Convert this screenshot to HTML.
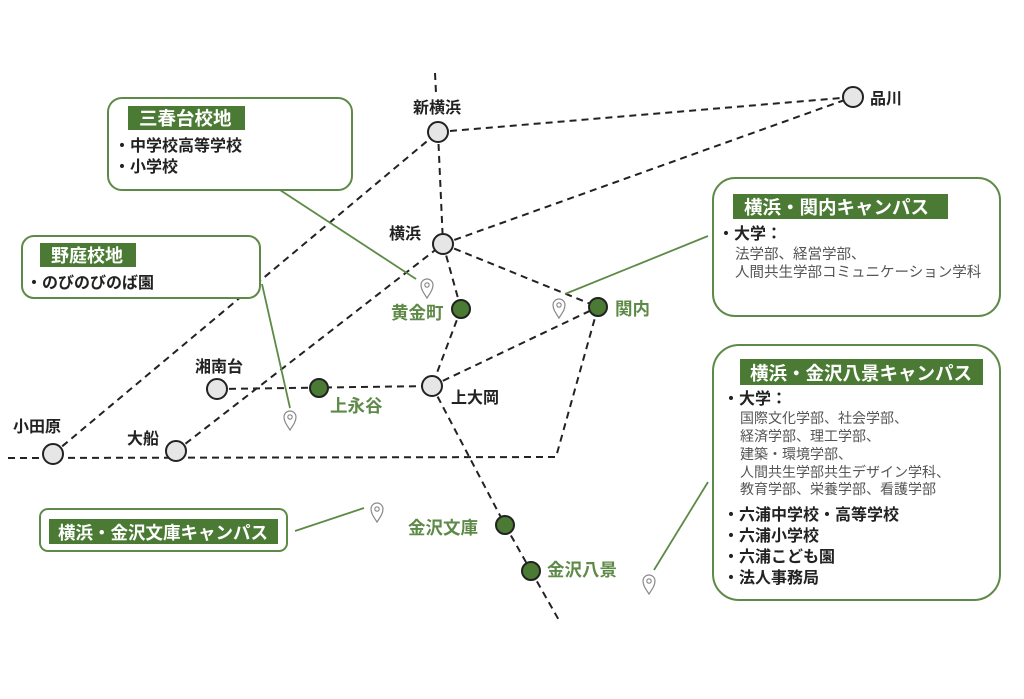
<!DOCTYPE html>
<html><head><meta charset="utf-8">
<style>
html,body{margin:0;padding:0;background:#fff;}
svg{display:block;}
text{font-family:"Liberation Sans","Noto Sans CJK JP",sans-serif;}
</style></head><body>
<svg width="1024" height="699" viewBox="0 0 1024 699" xmlns="http://www.w3.org/2000/svg">
<defs>
<g id="pin"><path d="M0,10 C-4,4 -6,1 -6,-3 A6,6 0 1 1 6,-3 C6,1 4,4 0,10 Z" fill="#fff" stroke="#888" stroke-width="1.2"/><circle cx="0" cy="-3" r="2.2" fill="none" stroke="#888" stroke-width="1.1"/></g>
</defs>
<g stroke="#222" stroke-width="2" stroke-dasharray="7,5" fill="none">
<line x1="435" y1="73" x2="436" y2="93"/>
<line x1="438" y1="132" x2="443" y2="244"/>
<line x1="438" y1="132" x2="853" y2="97"/>
<line x1="443" y1="244" x2="853" y2="97"/>
<line x1="53" y1="454" x2="438" y2="132"/>
<line x1="176" y1="451" x2="443" y2="244"/>
<line x1="443" y1="244" x2="461" y2="309"/>
<line x1="443" y1="244" x2="598" y2="307"/>
<line x1="461" y1="309" x2="432" y2="386"/>
<line x1="432" y1="386" x2="598" y2="307"/>
<line x1="217" y1="389" x2="432" y2="386"/>
<line x1="432" y1="386" x2="505" y2="525"/>
<line x1="505" y1="525" x2="531" y2="571"/>
<line x1="531" y1="571" x2="560" y2="622"/>
<polyline points="8,458 556,457 598,307"/>
</g>
<g stroke="#5e8a48" stroke-width="1.8" fill="none">
<line x1="280" y1="190" x2="416" y2="279"/>
<line x1="262" y1="284" x2="290" y2="408"/>
<line x1="708" y1="236" x2="565" y2="294"/>
<line x1="295" y1="531" x2="364" y2="508"/>
<line x1="708" y1="482" x2="654" y2="570"/>
</g>
<use href="#pin" x="427" y="288"/>
<use href="#pin" x="290" y="420"/>
<use href="#pin" x="559" y="308"/>
<use href="#pin" x="377" y="512"/>
<use href="#pin" x="649" y="584"/>
<g stroke="#222" stroke-width="2">
<circle cx="438" cy="132" r="10" fill="#e6e6e6"/>
<circle cx="443" cy="244" r="10" fill="#e6e6e6"/>
<circle cx="853" cy="97" r="10" fill="#e6e6e6"/>
<circle cx="432" cy="386" r="10" fill="#e6e6e6"/>
<circle cx="217" cy="389" r="10" fill="#e6e6e6"/>
<circle cx="53" cy="454" r="10" fill="#e6e6e6"/>
<circle cx="176" cy="451" r="10" fill="#e6e6e6"/>
<circle cx="461" cy="309" r="9" fill="#4a7a33"/>
<circle cx="598" cy="307" r="9" fill="#4a7a33"/>
<circle cx="319" cy="388" r="9" fill="#4a7a33"/>
<circle cx="505" cy="525" r="9" fill="#4a7a33"/>
<circle cx="531" cy="571" r="9" fill="#4a7a33"/>
</g>
<g font-size="16" font-weight="bold" fill="#222">
<text x="413" y="113">新横浜</text>
<text x="870" y="104">品川</text>
<text x="389" y="239">横浜</text>
<text x="451" y="403">上大岡</text>
<text x="195" y="372">湘南台</text>
<text x="13" y="432">小田原</text>
<text x="127" y="444">大船</text>
</g>
<g font-size="17.5" font-weight="bold" fill="#5e8a48">
<text x="391" y="319">黄金町</text>
<text x="615" y="315">関内</text>
<text x="330" y="412">上永谷</text>
<text x="408" y="534">金沢文庫</text>
<text x="547" y="576">金沢八景</text>
</g>
<g fill="#fff" stroke="#5e8a48" stroke-width="2">
<rect x="108" y="98" width="244" height="92" rx="14"/>
<rect x="22" y="236" width="238" height="62" rx="12"/>
<rect x="713" y="178" width="287" height="138" rx="22"/>
<rect x="713" y="345" width="287" height="255" rx="26"/>
<rect x="40" y="509" width="247" height="42" rx="8"/>
</g>
<g fill="#4a7a33">
<rect x="128" y="106" width="117" height="24"/>
<rect x="40" y="243" width="96" height="24"/>
<rect x="733" y="194" width="215" height="25"/>
<rect x="740" y="359" width="243" height="26"/>
<rect x="49" y="519" width="229" height="25"/>
</g>
<g font-weight="bold" fill="#fff">
<text x="139" y="125" font-size="18.5">三春台校地</text>
<text x="51" y="262" font-size="18">野庭校地</text>
<text x="744" y="214" font-size="18.5">横浜・関内キャンパス</text>
<text x="750" y="380" font-size="18.5">横浜・金沢八景キャンパス</text>
<text x="58" y="539" font-size="17.5">横浜・金沢文庫キャンパス</text>
</g>
<g font-size="16" font-weight="bold" fill="#222">
<text x="114" y="151">・中学校高等学校</text>
<text x="114" y="172">・小学校</text>
<text x="26" y="288">・のびのびのば園</text>
<text x="718" y="239">・大学：</text>
<text x="723" y="404">・大学：</text>
<text x="723" y="520">・六浦中学校・高等学校</text>
<text x="723" y="541">・六浦小学校</text>
<text x="723" y="562">・六浦こども園</text>
<text x="723" y="583">・法人事務局</text>
</g>
<g font-size="14.5" fill="#555">
<text x="735" y="259">法学部、経営学部、</text>
<text x="735" y="277">人間共生学部コミュニケーション学科</text>
</g>
<g font-size="14" fill="#555">
<text x="740" y="423">国際文化学部、社会学部、</text>
<text x="740" y="441">経済学部、理工学部、</text>
<text x="740" y="459">建築・環境学部、</text>
<text x="740" y="477">人間共生学部共生デザイン学科、</text>
<text x="740" y="494">教育学部、栄養学部、看護学部</text>
</g>
</svg>
</body></html>
